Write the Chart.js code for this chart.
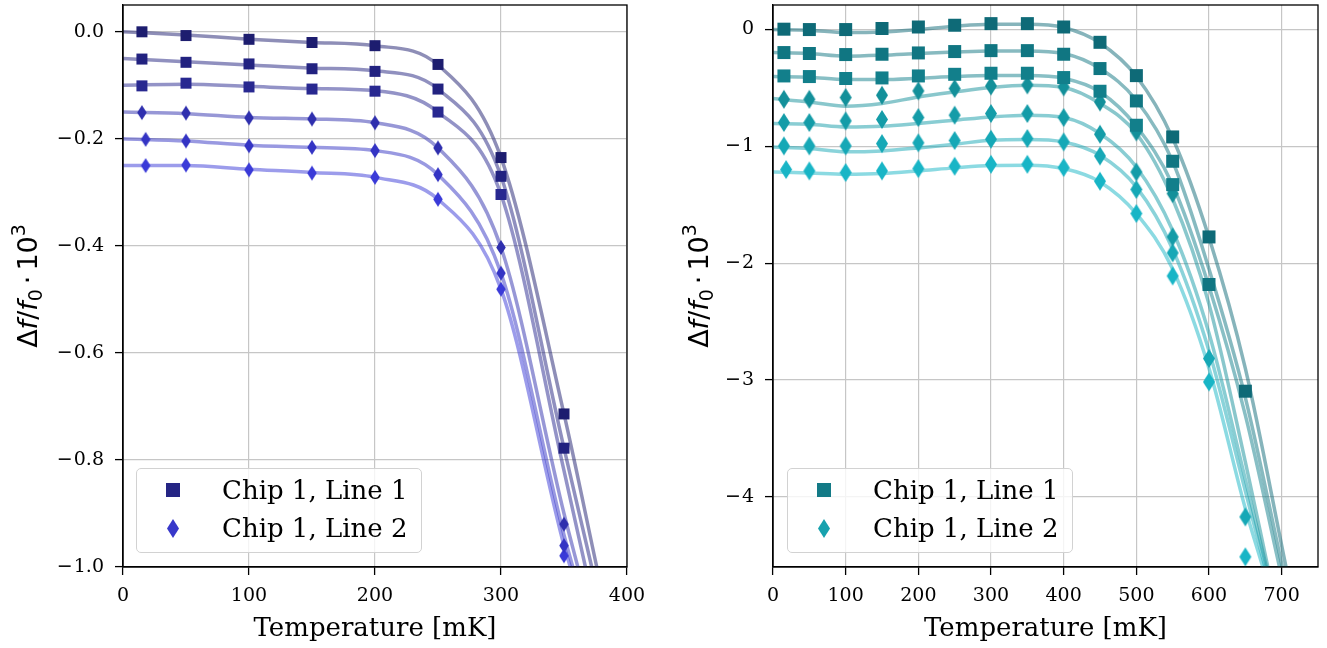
<!DOCTYPE html>
<html>
<head>
<meta charset="utf-8">
<script src="https://cdn.jsdelivr.net/npm/chart.js@4.4.0/dist/chart.umd.min.js"></script>
<style>
  body { margin: 0; background: #fff; width: 1327px; height: 648px; position: relative; overflow: hidden; }
  canvas { position: absolute; top: 0; }
  #leftChart { left: 0; }
  #rightChart { left: 663px; }
  .legend {
    position: absolute; top: 468px; width: 286px; height: 85px; box-sizing: border-box;
    border: 1.3px solid #d2d2d2; border-radius: 5px; background: rgba(255, 255, 255, 0.8);
    font-family: 'DejaVu Serif', serif; font-size: 26px; color: #000;
  }
  .legend .txt { position: absolute; left: 85px; line-height: 30px; white-space: nowrap; }
  .legend .sq { position: absolute; width: 14px; height: 14px; }
  .legend .dm { position: absolute; width: 12px; height: 19px; clip-path: polygon(50% 0, 100% 50%, 50% 100%, 0 50%); }
</style>
</head>
<body>
<canvas id="leftChart" width="663" height="648"></canvas>
<canvas id="rightChart" width="664" height="648"></canvas>

<div class="legend" style="left:136px">
  <span class="sq" style="left:29px;top:14px;background:#252584"></span>
  <span class="txt" style="top:6px">Chip 1, Line 1</span>
  <span class="dm" style="left:30px;top:50px;background:#3838ca"></span>
  <span class="txt" style="top:44px">Chip 1, Line 2</span>
</div>
<div class="legend" style="left:787px">
  <span class="sq" style="left:29px;top:14px;background:#137a86"></span>
  <span class="txt" style="top:6px">Chip 1, Line 1</span>
  <span class="dm" style="left:30px;top:50px;background:#18a2ae"></span>
  <span class="txt" style="top:44px">Chip 1, Line 2</span>
</div>

<script>
// ---- left panel: measured points ----
const tempL = [15, 50, 100, 150, 200, 250, 300, 350]
const tempLd = [18, 50, 100, 150, 200, 250, 300, 350]
const leftSq1 = [0.000, -0.007, -0.014, -0.020, -0.026, -0.061, -0.235, -0.714]
const leftSq2 = [-0.051, -0.057, -0.060, -0.069, -0.074, -0.107, -0.270, -0.778]
const leftSq3 = [-0.101, -0.096, -0.103, -0.107, -0.111, -0.150, -0.304]
const leftDm1 = [-0.151, -0.152, -0.161, -0.163, -0.170, -0.217, -0.403, -0.920]
const leftDm2 = [-0.201, -0.204, -0.213, -0.216, -0.222, -0.267, -0.451, -0.960]
const leftDm3 = [-0.250, -0.249, -0.258, -0.264, -0.272, -0.313, -0.481, -0.979]

// ---- left panel: fitted curves ----
const fitXL = [0, 50, 100, 150, 200, 250, 300, 350]
const leftFit1 = [0.000, -0.006, -0.014, -0.020, -0.026, -0.062, -0.235, -0.714]
const leftFit2 = [-0.050, -0.056, -0.062, -0.068, -0.073, -0.107, -0.270, -0.778]
const leftFit3 = [-0.100, -0.098, -0.102, -0.106, -0.110, -0.150, -0.304, -0.820]
const leftFit4 = [-0.150, -0.153, -0.160, -0.163, -0.170, -0.217, -0.403, -0.900]
const leftFit5 = [-0.200, -0.204, -0.212, -0.216, -0.222, -0.267, -0.451, -0.940]
const leftFit6 = [-0.250, -0.250, -0.257, -0.263, -0.272, -0.313, -0.481, -0.960]
const leftFitEndX = [376, 372, 367, 361, 357, 355]   // where each curve leaves through y = -1.0
const leftFitEndY = -1.0

// ---- right panel: measured points ----
const tempR = [15, 50, 100, 150, 200, 250, 300, 350, 400, 450, 500, 550, 600, 650]
const tempR7 = [18, 50, 100, 150, 200, 250, 300, 350, 400, 450, 500, 550, 600, 650]
const rightSq1 = [0.003, 0.000, 0.000, 0.009, 0.022, 0.037, 0.051, 0.051, 0.022, -0.109, -0.394, -0.919, -1.775, -3.095]
const rightSq2 = [-0.197, -0.205, -0.214, -0.211, -0.200, -0.188, -0.180, -0.180, -0.211, -0.334, -0.611, -1.127, -2.182]
const rightSq3 = [-0.397, -0.402, -0.419, -0.414, -0.397, -0.383, -0.374, -0.374, -0.411, -0.528, -0.819, -1.327]
const rightDm1 = [-0.597, -0.597, -0.582, -0.562, -0.525, -0.505, -0.483, -0.474, -0.491, -0.620, -0.876, -1.404]
const rightDm2 = [-0.796, -0.796, -0.782, -0.770, -0.753, -0.733, -0.719, -0.719, -0.753, -0.896, -1.219, -1.775]
const rightDm3 = [-0.996, -0.996, -0.996, -0.976, -0.970, -0.950, -0.939, -0.933, -0.962, -1.082, -1.369, -1.912, -2.816, -4.171]
const rightDm4 = [-1.198, -1.210, -1.224, -1.210, -1.190, -1.170, -1.153, -1.153, -1.181, -1.298, -1.575, -2.109, -3.016, -4.513]

// ---- right panel: fitted curves ----
const fitXR = [0, 50, 100, 150, 200, 250, 300, 350, 400, 450, 500, 550, 600, 650]
const rightFit1 = [0.000, -0.006, -0.026, -0.021, 0.000, 0.028, 0.045, 0.045, 0.017, -0.115, -0.400, -0.930, -1.780, -2.900]
const rightFit2 = [-0.197, -0.205, -0.228, -0.220, -0.205, -0.192, -0.183, -0.183, -0.205, -0.334, -0.605, -1.130, -2.050, -3.150]
const rightFit3 = [-0.402, -0.408, -0.428, -0.428, -0.417, -0.402, -0.394, -0.394, -0.417, -0.534, -0.828, -1.330, -2.200, -3.300]
const rightFit4 = [-0.591, -0.620, -0.656, -0.633, -0.577, -0.534, -0.496, -0.477, -0.496, -0.633, -0.890, -1.450, -2.350, -3.700]
const rightFit5 = [-0.804, -0.810, -0.834, -0.828, -0.804, -0.776, -0.748, -0.733, -0.753, -0.890, -1.176, -1.720, -2.600, -3.850]
const rightFit6 = [-1.005, -1.018, -1.047, -1.039, -1.013, -0.982, -0.947, -0.941, -0.962, -1.076, -1.347, -1.880, -2.750, -3.950]
const rightFit7 = [-1.219, -1.227, -1.238, -1.232, -1.210, -1.184, -1.164, -1.161, -1.190, -1.304, -1.575, -2.050, -2.900, -4.100]
const rightFitEndX = [706, 701, 697, 681, 679, 677, 674]
const rightFitEndY = -4.6

// ---- axes ----
const leftTicksX = [0, 100, 200, 300, 400]
const leftTicksY = [-1.0, -0.8, -0.6, -0.4, -0.2, 0.0]
const rightTicksX = [0, 100, 200, 300, 400, 500, 600, 700]
const rightTicksY = [-4, -3, -2, -1, 0]

const leftColors = ['#1d1d6f', '#222280', '#282890', '#2f2fae', '#3434c4', '#3a3ad8']
const rightColors = ['#0e6a77', '#107682', '#127f8b', '#13909a', '#149ca8', '#16a8b6', '#18b5c6']

Chart.defaults.font.family = "'DejaVu Serif', serif"
Chart.defaults.color = '#000'

function withAlpha(hex, a) {
  const n = parseInt(hex.slice(1), 16)
  return `rgba(${n >> 16}, ${(n >> 8) & 255}, ${n & 255}, ${a})`
}

// marker images: filled square or thin diamond
function marker(shape, color, w, h) {
  const c = document.createElement('canvas')
  c.width = Math.ceil(w) + 2
  c.height = Math.ceil(h) + 2
  const g = c.getContext('2d')
  const cx = c.width / 2, cy = c.height / 2
  g.fillStyle = color
  g.beginPath()
  if (shape === 'square') {
    g.rect(cx - w / 2, cy - h / 2, w, h)
  } else {
    g.moveTo(cx, cy - h / 2)
    g.lineTo(cx + w / 2, cy)
    g.lineTo(cx, cy + h / 2)
    g.lineTo(cx - w / 2, cy)
    g.closePath()
  }
  g.fill()
  return c
}

const toPoints = (xs, ys) => ys.map((y, i) => ({ x: xs[i], y }))

function markerSet(xs, ys, img) {
  return {
    data: toPoints(xs, ys), showLine: false, pointStyle: img,
    pointRadius: 7, pointHoverRadius: 7, order: 0, clip: 0
  }
}

function fitSet(xs, ys, endX, endY, color) {
  const pts = toPoints(xs, ys)
  pts.push({ x: endX, y: endY })
  return {
    data: pts, showLine: true, pointRadius: 0, borderColor: withAlpha(color, 0.5),
    borderWidth: 3.5, cubicInterpolationMode: 'monotone', order: 1, clip: 0
  }
}

// axes frame on all four sides
const frame = {
  id: 'frame',
  afterDraw(chart) {
    const { ctx, chartArea: a } = chart
    ctx.save()
    ctx.strokeStyle = '#000'
    ctx.lineWidth = 1.3
    ctx.strokeRect(a.left, a.top, a.right - a.left, a.bottom - a.top)
    ctx.restore()
  }
}

// y tick labels with a long math minus, and the math-style y title
const mathText = {
  id: 'mathText',
  afterDraw(chart, args, opts) {
    const { ctx, chartArea: a, scales: { y } } = chart
    ctx.save()
    ctx.fillStyle = '#000'
    ctx.textBaseline = 'middle'
    ctx.textAlign = 'right'
    const right = a.left - 19
    y.ticks.forEach(t => {
      const py = y.getPixelForValue(t.value)
      const s = opts.format(Math.abs(t.value))
      ctx.font = "19px 'DejaVu Serif'"
      ctx.fillText(s, right, py)
      if (t.value < 0) {
        const w = ctx.measureText(s).width
        ctx.font = "19px 'DejaVu Sans'"
        ctx.fillText('\u2212', right - w - 1, py)
      }
    })

    // Δf/f0 · 10^3, rotated
    const big = 27, small = 19
    const parts = [
      { t: 'Δ', f: `${big}px 'DejaVu Sans'`, dy: 0 },
      { t: 'f', f: `italic ${big}px 'DejaVu Sans'`, dy: 0 },
      { t: '/', f: `${big}px 'DejaVu Sans'`, dy: 0 },
      { t: 'f', f: `italic ${big}px 'DejaVu Sans'`, dy: 0 },
      { t: '0', f: `${small}px 'DejaVu Sans'`, dy: 5, gap: 5 },
      { t: '·', f: `${big}px 'DejaVu Sans'`, dy: 0, gap: 5 },
      { t: '10', f: `${big}px 'DejaVu Sans'`, dy: 0 },
      { t: '3', f: `${small}px 'DejaVu Sans'`, dy: -12 }
    ]
    ctx.textAlign = 'left'
    ctx.textBaseline = 'alphabetic'
    let total = 0
    parts.forEach(p => {
      ctx.font = p.f
      p.w = ctx.measureText(p.t).width
      total += p.w + (p.gap || 0)
    })
    ctx.translate(opts.titleX, (a.top + a.bottom) / 2)
    ctx.rotate(-Math.PI / 2)
    let x = -total / 2
    parts.forEach(p => {
      ctx.font = p.f
      ctx.fillText(p.t, x, p.dy)
      x += p.w + (p.gap || 0)
    })
    ctx.restore()
  }
}

function makeChart(id, cfg) {
  const fixSize = (size, horizontal) => scale => {
    if (horizontal) scale.height = size
    else scale.width = size
    scale.paddingTop = scale.paddingBottom = scale.paddingLeft = scale.paddingRight = 0
  }
  const grid = { color: '#c6c6c6', lineWidth: 1.2, tickColor: '#000', tickLength: 8, tickWidth: 1.3 }
  return new Chart(document.getElementById(id), {
    type: 'scatter',
    data: { datasets: cfg.datasets },
    options: {
      responsive: false,
      animation: false,
      events: [],
      layout: { autoPadding: false, padding: { top: 5, right: cfg.padRight, bottom: 0, left: 0 } },
      plugins: {
        legend: { display: false },
        tooltip: { enabled: false },
        mathText: { format: cfg.yFormat, titleX: cfg.yTitleX }
      },
      scales: {
        x: {
          type: 'linear', min: cfg.xMin, max: cfg.xMax,
          afterBuildTicks: s => { s.ticks = cfg.xTicks.map(v => ({ value: v })) },
          afterFit: fixSize(81, true),
          grid,
          border: { color: '#000', width: 1.3 },
          ticks: { font: { size: 19 }, padding: 10, maxRotation: 0, callback: v => String(v) },
          title: { display: true, text: 'Temperature [mK]', font: { size: 26 }, padding: { top: 0, bottom: 3 } }
        },
        y: {
          type: 'linear', min: cfg.yMin, max: cfg.yMax,
          afterBuildTicks: s => { s.ticks = cfg.yTicks.map(v => ({ value: v })) },
          afterFit: fixSize(cfg.yWidth, false),
          grid,
          border: { color: '#000', width: 1.3 },
          ticks: { display: false }
        }
      }
    },
    plugins: [frame, mathText]
  })
}

// left panel
const lSq = leftColors.slice(0, 3).map(c => marker('square', c, 11, 11))
const lDm = leftColors.slice(3).map(c => marker('diamond', c, 9.5, 15))
const leftFits = [leftFit1, leftFit2, leftFit3, leftFit4, leftFit5, leftFit6]
makeChart('leftChart', {
  xMin: 0, xMax: 400, yMin: -1.0, yMax: 0.05,
  xTicks: leftTicksX, yTicks: leftTicksY,
  yWidth: 123, padRight: 36, yTitleX: 37,
  yFormat: v => v.toFixed(1),
  datasets: [
    markerSet(tempL, leftSq1, lSq[0]),
    markerSet(tempL, leftSq2, lSq[1]),
    markerSet(tempL, leftSq3, lSq[2]),
    markerSet(tempL, leftDm1, lDm[0]),
    markerSet(tempLd, leftDm2, lDm[1]),
    markerSet(tempLd, leftDm3, lDm[2]),
    ...leftFits.map((f, i) => fitSet(fitXL, f, leftFitEndX[i], leftFitEndY, leftColors[i]))
  ]
})

// right panel
const rSq = rightColors.slice(0, 3).map(c => marker('square', c, 13, 13))
const rDm = rightColors.slice(3).map(c => marker('diamond', c, 12, 19))
const rightFits = [rightFit1, rightFit2, rightFit3, rightFit4, rightFit5, rightFit6, rightFit7]
makeChart('rightChart', {
  xMin: 0, xMax: 750, yMin: -4.6, yMax: 0.21,
  xTicks: rightTicksX, yTicks: rightTicksY,
  yWidth: 110, padRight: 9, yTitleX: 45,
  yFormat: v => String(v),
  datasets: [
    markerSet(tempR, rightSq1, rSq[0]),
    markerSet(tempR, rightSq2, rSq[1]),
    markerSet(tempR, rightSq3, rSq[2]),
    markerSet(tempR, rightDm1, rDm[0]),
    markerSet(tempR, rightDm2, rDm[1]),
    markerSet(tempR, rightDm3, rDm[2]),
    markerSet(tempR7, rightDm4, rDm[3]),
    ...rightFits.map((f, i) => fitSet(fitXR, f, rightFitEndX[i], rightFitEndY, rightColors[i]))
  ]
})
</script>
</body>
</html>
